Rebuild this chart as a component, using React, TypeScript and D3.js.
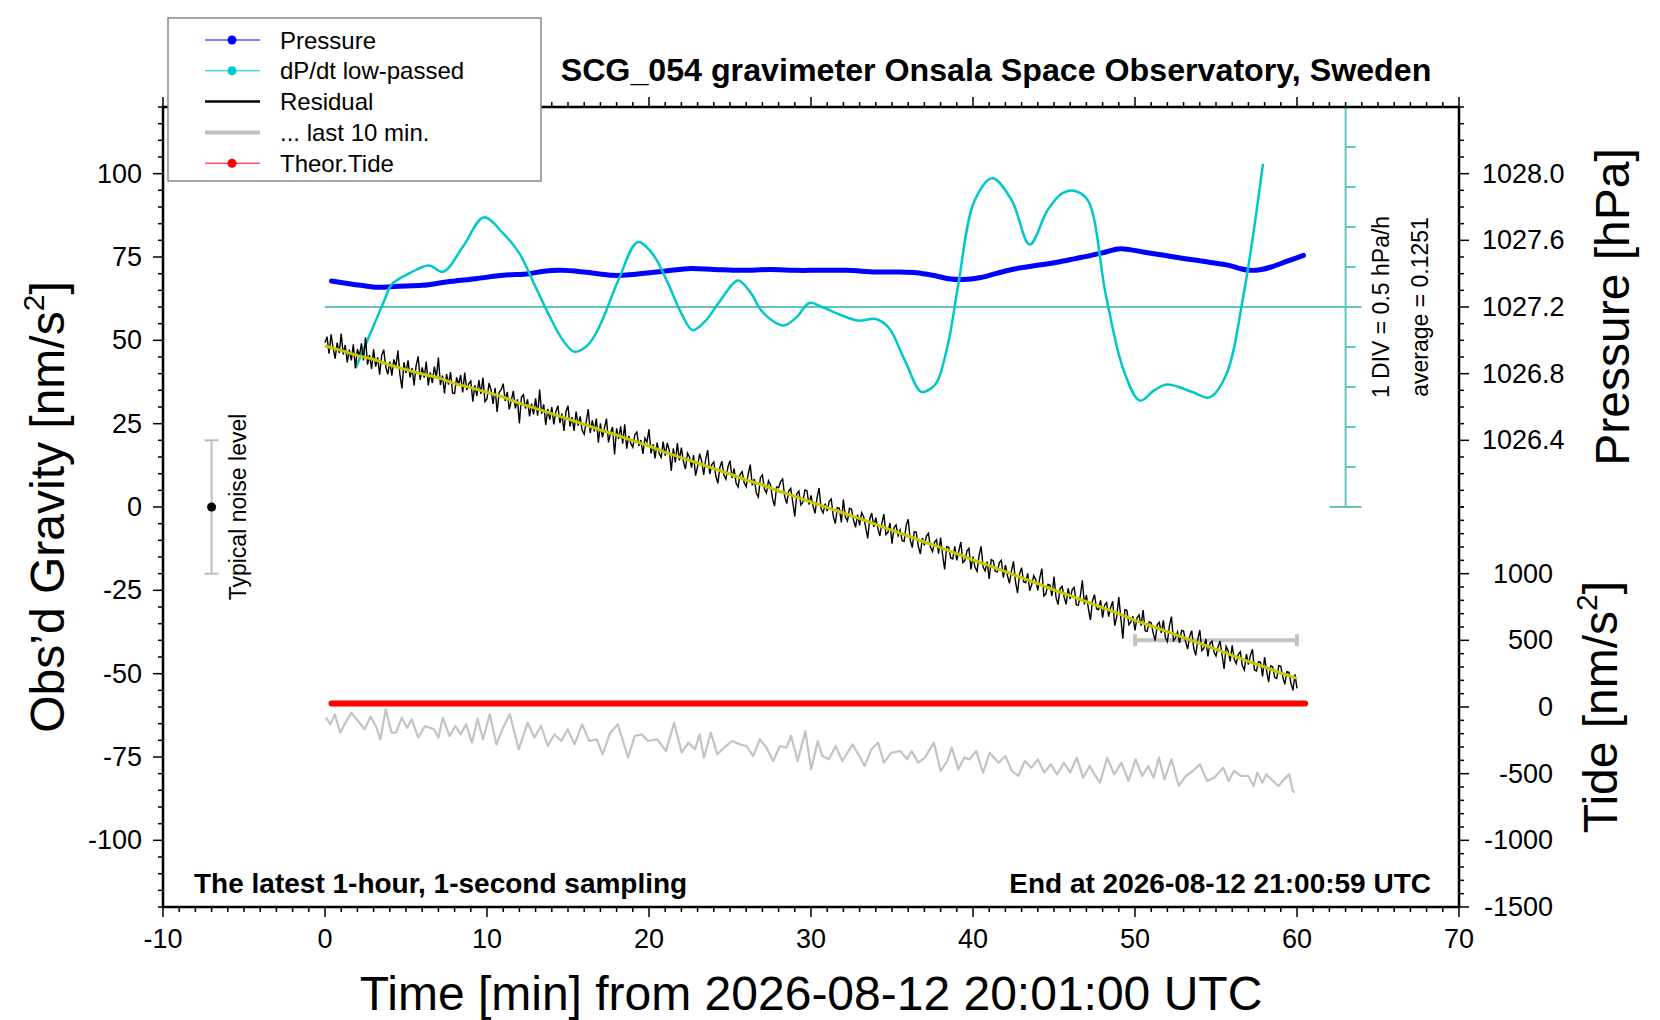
import * as d3 from "d3";

// ---- data ----
// residual gravity, one value every 7.5 s from t = 0 to 60 min [nm/s^2]
const residualStep = 0.125;
const residual = [
  49.3, 51.1, 46.0, 51.8, 47.7, 44.5, 49.3, 46.2,
  52.0, 45.8, 48.6, 43.4, 47.2, 44.0, 48.8, 41.6,
  47.4, 45.3, 49.1, 44.0, 50.9, 42.7, 45.6, 41.4,
  47.3, 42.1, 44.9, 39.7, 45.5, 47.2, 42.0, 39.8,
  43.6, 39.4, 44.3, 42.1, 46.9, 39.7, 35.6, 43.4,
  40.2, 44.0, 38.9, 41.7, 36.5, 42.4, 45.2, 38.1,
  41.9, 38.8, 43.6, 36.5, 40.4, 37.2, 42.1, 38.9,
  44.8, 36.6, 39.4, 34.1, 39.9, 36.7, 40.5, 34.2,
  34.0, 38.9, 36.7, 39.6, 34.4, 40.3, 35.1, 37.0,
  37.8, 31.6, 36.5, 33.3, 38.1, 33.9, 38.8, 31.6,
  32.4, 37.2, 35.1, 30.9, 35.7, 28.5, 34.4, 35.2,
  37.0, 31.8, 34.5, 29.3, 32.0, 34.8, 29.6, 32.3,
  25.1, 32.9, 33.7, 29.5, 32.3, 27.2, 31.0, 27.8,
  32.6, 27.4, 35.2, 28.0, 30.8, 24.6, 29.4, 26.2,
  30.0, 24.8, 28.6, 30.4, 25.2, 28.0, 22.8, 28.6,
  30.4, 24.2, 27.0, 22.8, 28.6, 24.4, 27.2, 23.0,
  21.8, 25.6, 29.4, 22.2, 26.0, 22.7, 26.5, 19.3,
  25.1, 20.9, 23.7, 26.5, 19.4, 22.2, 24.0, 15.8,
  23.6, 20.4, 24.2, 19.0, 24.8, 17.5, 21.3, 19.1,
  17.9, 21.7, 22.5, 18.3, 20.1, 15.9, 20.7, 19.5,
  23.3, 16.1, 18.8, 14.6, 19.3, 16.1, 14.9, 19.6,
  15.4, 19.2, 17.0, 10.8, 17.6, 13.4, 19.2, 14.0,
  17.8, 13.6, 11.4, 16.2, 15.0, 11.8, 15.6, 9.4,
  12.2, 16.0, 13.8, 9.6, 14.4, 17.1, 9.9, 12.7,
  13.5, 9.3, 7.1, 11.9, 13.7, 9.5, 8.3, 12.1,
  13.9, 8.7, 11.5, 7.2, 6.0, 9.8, 10.6, 7.3,
  6.1, 9.9, 12.7, 6.5, 8.4, 4.2, 3.0, 8.8,
  9.6, 5.4, 4.2, 7.9, 6.7, 2.5, 0.3, 6.0,
  5.8, 7.6, 8.4, 3.2, 1.0, 4.8, 5.6, 1.4,
  -2.8, 4.0, 4.8, 0.6, 1.4, 5.1, 4.9, 0.7,
  3.5, 0.3, -1.9, 2.9, 5.7, -0.6, -1.8, 1.0,
  -1.2, 1.6, 2.4, -2.8, -5.0, -0.2, -0.4, -4.6,
  2.2, -3.0, -4.2, -0.4, -0.7, -3.9, -6.1, -2.3,
  -5.5, -1.7, -2.9, -6.1, -9.4, -3.6, -1.8, -6.0,
  -3.2, -6.4, -8.7, -4.9, -2.1, -8.3, -7.6, -4.8,
  -11.0, -6.2, -5.4, -8.6, -6.9, -10.1, -10.3, -5.5,
  -3.7, -9.9, -12.2, -7.4, -7.6, -11.8, -14.1, -9.3,
  -11.5, -8.7, -7.9, -12.1, -13.4, -10.6, -9.8, -14.0,
  -9.2, -14.4, -18.7, -11.9, -12.1, -15.3, -15.6, -11.8,
  -16.0, -13.2, -10.5, -16.7, -16.0, -13.2, -12.4, -18.7,
  -14.9, -18.1, -19.3, -14.5, -11.8, -18.0, -19.2, -16.4,
  -21.6, -15.8, -16.1, -19.3, -19.5, -16.7, -16.0, -21.2,
  -17.4, -20.6, -22.9, -19.1, -16.3, -22.5, -25.8, -20.0,
  -18.2, -22.4, -22.7, -19.9, -25.1, -23.3, -20.6, -21.8,
  -25.0, -21.2, -18.5, -26.7, -26.0, -23.2, -23.4, -26.7,
  -20.9, -27.1, -29.3, -24.5, -23.8, -27.0, -29.2, -24.4,
  -27.6, -24.8, -24.1, -29.3, -29.5, -26.7, -22.0, -29.2,
  -26.4, -30.6, -33.9, -28.1, -26.3, -30.5, -30.8, -28.0,
  -33.2, -29.4, -28.7, -32.9, -30.1, -28.3, -35.6, -32.8,
  -27.0, -33.3, -39.5, -30.8, -31.0, -35.3, -34.5, -32.8,
  -37.0, -33.2, -32.4, -35.6, -30.9, -37.1, -37.3, -34.5,
  -34.7, -37.9, -40.1, -35.3, -34.6, -37.8, -34.0, -39.2,
  -40.4, -35.6, -32.9, -40.1, -39.3, -37.5, -40.8, -37.0,
  -37.2, -40.4, -42.6, -38.8, -37.1, -42.3, -44.5, -39.7,
  -36.9, -43.1, -42.4, -39.6, -44.8, -41.0, -40.3, -43.5,
  -44.7, -41.9, -40.2, -44.4, -48.6, -41.8, -43.1, -46.3,
  -41.5, -45.7, -47.0, -44.2, -43.4, -47.6, -48.9, -44.1,
  -47.3, -44.5, -42.7, -48.9, -49.2, -46.4, -46.6, -50.8,
  -45.0, -49.2, -52.5, -47.7, -47.9, -51.1, -51.4, -47.6,
  -47.8, -51.0, -53.2, -49.4, -49.6, -52.8, -55.0, -50.2,
  -54.4,
];

// smoothed residual (yellow), one value per minute
const smoothStep = 1;
const smoothed = [
  48.3, 47.0, 45.4, 44.3, 42.6, 41.2, 39.9, 38.8, 37.0, 35.8, 34.4, 33.0, 31.1,
  29.6, 28.0, 26.4, 24.8, 23.1, 21.6, 19.9, 18.3, 16.4, 14.8, 13.2, 11.5, 9.9,
  8.1, 6.6, 4.8, 3.2, 1.5, -0.2, -1.8, -3.5, -5.2, -7.0, -8.7, -10.5, -12.2,
  -14.0, -15.9, -17.6, -19.4, -21.2, -23.0, -24.9, -26.6, -28.4, -30.2, -32.0,
  -34.0, -35.7, -37.4, -39.2, -40.9, -42.7, -44.5, -46.3, -48.0, -49.8, -51.4,
];

// "... last 10 min." trace (already on the plot's gravity scale)
const lastTenTime = [
  0.06, 0.33, 0.61, 0.94, 1.21, 1.63, 2.04, 2.45, 2.81, 3.14, 3.42, 3.75, 4.11,
  4.38, 4.74, 5.07, 5.35, 5.76, 6.17, 6.72, 7.0, 7.27, 7.69, 8.05, 8.38, 8.71,
  9.07, 9.42, 9.75, 10.17, 10.58, 10.99, 11.41, 11.96, 12.51, 12.92, 13.34,
  13.75, 14.16, 14.58, 14.99, 15.4, 15.87, 16.31, 16.78, 17.14, 17.61, 18.08,
  18.71, 19.12, 19.54, 19.95, 20.5, 21.05, 21.55, 22.02, 22.43, 22.84, 23.12,
  23.39, 23.81, 24.22, 24.63, 25.13, 25.6, 26.01, 26.43, 26.84, 27.25, 27.67,
  28.08, 28.49, 28.77, 29.18, 29.65, 30.01, 30.42, 30.7, 31.11, 31.52, 31.94,
  32.57, 33.04, 33.31, 33.73, 34.14, 34.5, 34.97, 35.52, 35.93, 36.21, 36.62,
  37.03, 37.59, 38.0, 38.41, 38.69, 39.1, 39.46, 39.79, 40.2, 40.62, 41.03,
  41.58, 42.0, 42.4, 42.8, 43.2, 43.6, 44.0, 44.4, 44.8, 45.2, 45.6, 46.0,
  46.4, 46.8, 47.2, 47.5, 47.84, 48.28, 48.72, 49.16, 49.6, 50.04, 50.44,
  50.82, 51.15, 51.48, 51.81, 52.25, 52.69, 53.13, 53.57, 54.01, 54.45, 54.89,
  55.45, 55.78, 56.11, 56.55, 56.99, 57.32, 57.54, 57.87, 58.09, 58.42, 58.86,
  59.19, 59.52, 59.74, 59.85,
];
const lastTenValue = [
  -63.2, -65.2, -62.2, -67.7, -65.2, -61.7, -64.2, -66.7, -62.9, -65.7, -69.7,
  -60.7, -67.7, -67.7, -63.2, -66.2, -63.7, -69.2, -65.7, -66.7, -69.2, -63.2,
  -68.7, -65.7, -68.2, -65.2, -70.7, -63.5, -69.7, -62.2, -71.2, -66.2, -62.2,
  -72.7, -64.7, -69.2, -65.7, -71.7, -68.2, -70.2, -66.7, -71.2, -65.2, -70.2,
  -69.7, -74.2, -67.7, -65.2, -75.2, -68.7, -68.2, -70.2, -69.7, -73.2, -64.7,
  -73.7, -70.7, -72.7, -68.2, -75.2, -67.7, -74.2, -72.2, -70.2, -71.2, -71.7,
  -74.7, -69.7, -72.2, -76.2, -71.7, -72.2, -68.7, -76.2, -67.2, -78.7, -70.2,
  -74.7, -75.7, -71.7, -76.2, -71.2, -75.2, -77.7, -72.7, -70.7, -76.7, -73.7,
  -73.2, -75.7, -73.2, -76.7, -75.2, -70.7, -79.2, -76.2, -72.2, -78.7, -75.2,
  -75.7, -73.2, -79.7, -73.7, -76.7, -74.7, -79.2, -80.7, -76.2, -78.2, -75.7,
  -79.7, -77.2, -80.2, -76.7, -79.7, -75.2, -81.2, -77.7, -80.2, -82.7, -75.2,
  -80.2, -76.7, -82.2, -75.7, -80.7, -77.7, -81.2, -75.2, -81.7, -75.7, -83.7,
  -80.7, -79.2, -77.2, -82.2, -81.2, -78.2, -82.2, -79.2, -80.7, -80.7, -83.7,
  -79.7, -82.7, -80.2, -81.7, -83.7, -81.7, -80.2, -85.2, -85.7,
];

// air pressure [hPa]
const pressureTime = [
  0.4, 2.2, 3.3, 4.5, 6, 7.5, 9.3, 11, 12.6, 13.5, 14.6, 16, 17.8, 19, 20.5,
  22.4, 24, 25.7, 27.5, 29, 30.5, 32.2, 34, 35.5, 36.5, 37.5, 38.5, 39.4, 40.4,
  41.4, 42.4, 43.3, 44.3, 45.3, 46.3, 47.3, 48.2, 49.1, 50.5, 51.8, 53.1, 54.5,
  55.8, 56.5, 57.1, 57.8, 58.4, 59.4, 60.4,
];
const pressureHpa = [
  1027.356, 1027.33, 1027.318, 1027.325, 1027.33, 1027.35, 1027.37, 1027.39,
  1027.4, 1027.415, 1027.42, 1027.41, 1027.39, 1027.395, 1027.41, 1027.43,
  1027.425, 1027.42, 1027.425, 1027.42, 1027.42, 1027.42, 1027.41, 1027.41,
  1027.405, 1027.39, 1027.37, 1027.365, 1027.375, 1027.4, 1027.425, 1027.44,
  1027.455, 1027.47, 1027.49, 1027.51, 1027.53, 1027.55, 1027.53, 1027.51,
  1027.49, 1027.47, 1027.45, 1027.43, 1027.42, 1027.425, 1027.44, 1027.475,
  1027.51,
];

// dP/dt low-passed, departure from the average [hPa/h]
const dpdtTime = [
  1.9, 2.8, 3.7, 4.1, 5.2, 6.4, 7.3, 8.5, 9.8, 11, 12, 13, 13.9, 14.7, 15.4,
  16.2, 16.9, 18.1, 19.3, 20.2, 21.1, 22, 22.7, 23.5, 24.4, 25.5, 26.3, 27,
  28.3, 29.1, 29.9, 30.7, 31.6, 32.9, 34, 34.8, 35.8, 36.8, 37.4, 37.8, 38.5,
  39.1, 40.1, 41.2, 42.4, 43.5, 44.6, 45.5, 46.3, 47.1, 48.2, 49.3, 50.3, 51.2,
  52, 53.5, 54.6, 55.6, 56.7, 57.9,
];
const dpdtValue = [
  -0.76, -0.33, 0.1, 0.28, 0.42, 0.52, 0.44, 0.75, 1.12, 0.92, 0.67, 0.25,
  -0.13, -0.42, -0.56, -0.48, -0.26, 0.33, 0.81, 0.67, 0.33, -0.08, -0.29,
  -0.17, 0.08, 0.33, 0.17, -0.06, -0.23, -0.13, 0.05, 0, -0.08, -0.17, -0.15,
  -0.26, -0.67, -1.06, -1.02, -0.93, -0.42, 0.29, 1.33, 1.61, 1.33, 0.78, 1.21,
  1.42, 1.45, 1.33, 0.15, -0.79, -1.17, -1.04, -0.97, -1.06, -1.13, -0.86,
  0.15, 1.79,
];
const dpdtAverage = 0.1251;

// theoretical tide [nm/s^2]
const tideTime = [0.4, 10, 20, 30, 40, 50, 60.5];
const tideValue = [27, 27, 27, 27, 27, 27, 27];

// markers
const noiseAt = -7;
const noiseHalf = 20;
const lastTenSpan = [50, 60];
const lastTenLevel = -40;
const dpdtAxisAt = 63;
const dpdtDiv = 0.5;

const legendItems = [
  { label: "Pressure", color: "#0000ff", kind: "dot" },
  { label: "dP/dt low-passed", color: "#00c8c8", kind: "dot" },
  { label: "Residual", color: "#000000", kind: "line" },
  { label: "... last 10 min.", color: "#c0c0c0", kind: "thick" },
  { label: "Theor.Tide", color: "#ff0000", kind: "dot" },
];

const FONT = "'Liberation Sans', Arial, Helvetica, sans-serif";

export default function App() {
  const width = 1660;
  const height = 1020;

  const x = d3.scaleLinear().domain([-10, 70]).range([163, 1459]);
  const yG = d3.scaleLinear().domain([-120, 120]).range([907, 107]);
  const yP = d3.scaleLinear().domain([1026.0, 1028.4]).range([yG(0), yG(120)]);
  const yT = d3.scaleLinear().domain([-1500, 1500]).range([yG(-120), yG(0)]);
  const yC = d3.scaleLinear().domain([-2.5, 2.5]).range([yG(0), yG(120)]);

  const left = x(-10);
  const right = x(70);
  const top = yG(120);
  const bottom = yG(-120);

  const resLine = d3
    .line<number>()
    .x((_, i) => x(i * residualStep))
    .y((d) => yG(d));
  const smoothLine = d3
    .line<number>()
    .x((_, i) => x(i * smoothStep))
    .y((d) => yG(d));
  const lastTenLine = d3
    .line<number>()
    .x((_, i) => x(lastTenTime[i]))
    .y((d) => yG(d));
  const pressureLine = d3
    .line<number>()
    .x((_, i) => x(pressureTime[i]))
    .y((d) => yP(d))
    .curve(d3.curveCatmullRom);
  const dpdtLine = d3
    .line<number>()
    .x((_, i) => x(dpdtTime[i]))
    .y((d) => yC(d))
    .curve(d3.curveCatmullRom);
  const tideLine = d3
    .line<number>()
    .x((_, i) => x(tideTime[i]))
    .y((d) => yT(d));

  const xMinor = d3.range(-10, 71, 1);
  const xMajor = d3.range(-10, 71, 10);
  const gMinor = d3.range(-120, 121, 5);
  const gLabels = d3.range(-100, 101, 25);
  const pMinor = d3.range(0, 25).map((i) => 1026.0 + i * 0.1);
  const pLabels = [1026.4, 1026.8, 1027.2, 1027.6, 1028.0];
  const tMinor = d3.range(-1500, 1501, 100);
  const tLabels = d3.range(-1500, 1001, 500);
  const cTicks = d3.range(-5, 6).map((i) => i * dpdtDiv);

  const major = 10;
  const minor = 5;
  const tickFont = 27;
  const teal = "#63c3bd";

  return (
    <svg
      width={width}
      height={height}
      style={{ position: "absolute", left: 0, top: 0, background: "#fff" }}
      fontFamily={FONT}
    >
      <rect width={width} height={height} fill="#fff" />

      {/* dP/dt reference axis */}
      <line x1={x(0)} x2={x(dpdtAxisAt) + 16} y1={yC(0)} y2={yC(0)} stroke={teal} strokeWidth={2} />
      <line x1={x(dpdtAxisAt)} x2={x(dpdtAxisAt)} y1={yC(-2.5)} y2={yC(2.5)} stroke={teal} strokeWidth={2} />
      {cTicks.map((v) => (
        <line
          key={"c" + v}
          x1={x(dpdtAxisAt)}
          x2={x(dpdtAxisAt) + (Math.abs(v) === 2.5 ? 16 : 10)}
          y1={yC(v)}
          y2={yC(v)}
          stroke={teal}
          strokeWidth={2}
        />
      ))}
      {[-2.5, 2.5].map((v) => (
        <line key={"cap" + v} x1={x(dpdtAxisAt) - 16} x2={x(dpdtAxisAt)} y1={yC(v)} y2={yC(v)} stroke={teal} strokeWidth={2} />
      ))}
      <text
        transform={`translate(${x(dpdtAxisAt) + 35},${yC(0)}) rotate(-90)`}
        textAnchor="middle"
        dominantBaseline="central"
        fontSize={23}
      >
        1 DIV = {dpdtDiv} hPa/h
      </text>
      <text
        transform={`translate(${x(dpdtAxisAt) + 74},${yC(0)}) rotate(-90)`}
        textAnchor="middle"
        dominantBaseline="central"
        fontSize={23}
      >
        average = {dpdtAverage}
      </text>

      {/* last 10 min trace and its span marker */}
      <path d={lastTenLine(lastTenValue) ?? ""} fill="none" stroke="#c3c3c3" strokeWidth={2.2} strokeLinejoin="round" />
      <line x1={x(lastTenSpan[0])} x2={x(lastTenSpan[1])} y1={yG(lastTenLevel)} y2={yG(lastTenLevel)} stroke="#c3c3c3" strokeWidth={4} />
      {lastTenSpan.map((t) => (
        <line key={"ls" + t} x1={x(t)} x2={x(t)} y1={yG(lastTenLevel) - 6} y2={yG(lastTenLevel) + 6} stroke="#c3c3c3" strokeWidth={4} />
      ))}

      {/* typical noise level */}
      <line x1={x(noiseAt)} x2={x(noiseAt)} y1={yG(-noiseHalf)} y2={yG(noiseHalf)} stroke="#bdbdbd" strokeWidth={2} />
      {[-noiseHalf, noiseHalf].map((v) => (
        <line key={"nz" + v} x1={x(noiseAt) - 7} x2={x(noiseAt) + 7} y1={yG(v)} y2={yG(v)} stroke="#bdbdbd" strokeWidth={2} />
      ))}
      <circle cx={x(noiseAt)} cy={yG(0)} r={4.5} fill="#000" />
      <text
        transform={`translate(${x(noiseAt) + 26},${yG(0)}) rotate(-90)`}
        textAnchor="middle"
        dominantBaseline="central"
        fontSize={23}
      >
        Typical noise level
      </text>

      {/* data */}
      <path d={tideLine(tideValue) ?? ""} fill="none" stroke="#ff0000" strokeWidth={6} strokeLinecap="round" />
      <path d={pressureLine(pressureHpa) ?? ""} fill="none" stroke="#0000ff" strokeWidth={5} strokeLinecap="round" />
      <path d={dpdtLine(dpdtValue) ?? ""} fill="none" stroke="#00c8c8" strokeWidth={2.5} />
      <path d={resLine(residual) ?? ""} fill="none" stroke="#000" strokeWidth={1.4} />
      <path d={smoothLine(smoothed) ?? ""} fill="none" stroke="#c8c800" strokeWidth={3} />

      {/* frame */}
      <rect x={left} y={top} width={right - left} height={bottom - top} fill="none" stroke="#000" strokeWidth={2.5} />

      {/* bottom and top axes */}
      {xMinor.map((t) => {
        const len = t % 10 === 0 ? major : minor;
        return (
          <g key={"x" + t}>
            <line x1={x(t)} x2={x(t)} y1={bottom} y2={bottom + len} stroke="#000" strokeWidth={1.5} />
            <line x1={x(t)} x2={x(t)} y1={top} y2={top - len} stroke="#000" strokeWidth={1.5} />
          </g>
        );
      })}
      {xMajor.map((t) => (
        <text key={"xl" + t} x={x(t)} y={948} textAnchor="middle" fontSize={tickFont}>
          {t}
        </text>
      ))}

      {/* left axis */}
      {gMinor.map((v) => (
        <line
          key={"g" + v}
          x1={left}
          x2={left - (v % 25 === 0 && Math.abs(v) <= 100 ? major : minor)}
          y1={yG(v)}
          y2={yG(v)}
          stroke="#000"
          strokeWidth={1.5}
        />
      ))}
      {gLabels.map((v) => (
        <text key={"gl" + v} x={left - 21} y={yG(v)} textAnchor="end" dominantBaseline="central" fontSize={tickFont}>
          {v}
        </text>
      ))}

      {/* right axis: pressure (upper half) and tide (lower half) */}
      {pMinor.map((p) => (
        <line
          key={"p" + p.toFixed(1)}
          x1={right}
          x2={right + (pLabels.some((l) => Math.abs(l - p) < 1e-6) ? major : minor)}
          y1={yP(p)}
          y2={yP(p)}
          stroke="#000"
          strokeWidth={1.5}
        />
      ))}
      {pLabels.map((p) => (
        <text key={"pl" + p} x={right + 23} y={yP(p)} dominantBaseline="central" fontSize={tickFont}>
          {p.toFixed(1)}
        </text>
      ))}
      {tMinor.map((v) => (
        <line
          key={"t" + v}
          x1={right}
          x2={right + (v % 500 === 0 && v < 1500 ? major : minor)}
          y1={yT(v)}
          y2={yT(v)}
          stroke="#000"
          strokeWidth={1.5}
        />
      ))}
      {tLabels.map((v) => (
        <text key={"tl" + v} x={right + 94} y={yT(v)} textAnchor="end" dominantBaseline="central" fontSize={tickFont}>
          {v}
        </text>
      ))}

      {/* axis titles */}
      <text x={x(30)} y={1010} textAnchor="middle" fontSize={48}>
        Time [min] from 2026-08-12 20:01:00 UTC
      </text>
      <text transform={`translate(64,${yG(0)}) rotate(-90)`} textAnchor="middle" fontSize={48}>
        Obs’d Gravity [nm/s<tspan fontSize={30} dy={-20}>2</tspan>
        <tspan dy={20}>]</tspan>
      </text>
      <text transform={`translate(1629,${yP(1027.2)}) rotate(-90)`} textAnchor="middle" fontSize={48}>
        Pressure [hPa]
      </text>
      <text transform={`translate(1617,${yT(0)}) rotate(-90)`} textAnchor="middle" fontSize={48}>
        Tide [nm/s<tspan fontSize={30} dy={-20}>2</tspan>
        <tspan dy={20}>]</tspan>
      </text>

      {/* title and footers */}
      <text x={996} y={81} textAnchor="middle" fontSize={32.2} fontWeight="bold">
        SCG_054 gravimeter Onsala Space Observatory, Sweden
      </text>
      <text x={194} y={893} fontSize={28} fontWeight="bold">
        The latest 1-hour, 1-second sampling
      </text>
      <text x={1431} y={893} textAnchor="end" fontSize={28} fontWeight="bold">
        End at 2026-08-12 21:00:59 UTC
      </text>

      {/* legend */}
      <g>
        <rect x={168} y={18} width={373} height={163} fill="#fff" stroke="#888" strokeWidth={1.5} />
        {legendItems.map((item, i) => {
          const cy = 40 + i * 30.8;
          return (
            <g key={item.label}>
              <line
                x1={205}
                x2={260}
                y1={cy}
                y2={cy}
                stroke={item.color}
                strokeWidth={item.kind === "dot" ? 1 : item.kind === "thick" ? 4 : 2.5}
              />
              {item.kind === "dot" && <circle cx={232} cy={cy} r={4.5} fill={item.color} />}
              <text x={280} y={cy} dominantBaseline="central" fontSize={24}>
                {item.label}
              </text>
            </g>
          );
        })}
      </g>
    </svg>
  );
}
